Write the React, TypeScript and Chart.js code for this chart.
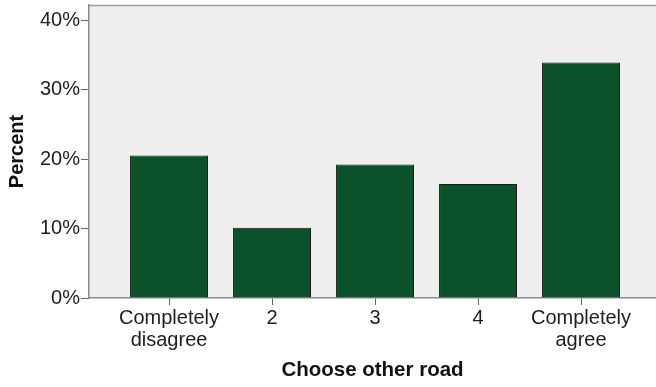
import React, { useEffect, useRef } from "react";
import { Chart, registerables } from "chart.js";

Chart.register(...registerables);

const categories: string[][] = [
  ["Completely", "disagree"],
  ["2"],
  ["3"],
  ["4"],
  ["Completely", "agree"],
];
const percentValues: number[] = [20.5, 10.1, 19.2, 16.4, 33.9];
const yTickValues: number[] = [0, 10, 20, 30, 40];
const xAxisTitle = "Choose other road";
const yAxisTitle = "Percent";

const bgPlugin = {
  id: "plotBg",
  beforeDraw(chart: any) {
    const { ctx, chartArea } = chart;
    if (!chartArea) return;
    ctx.save();
    ctx.fillStyle = "#efefef";
    ctx.fillRect(chartArea.left, chartArea.top, chartArea.right - chartArea.left, chartArea.bottom - chartArea.top);
    ctx.strokeStyle = "#9a9a9a";
    ctx.lineWidth = 1.5;
    ctx.beginPath();
    ctx.moveTo(chartArea.left, chartArea.top + 0.5);
    ctx.lineTo(chartArea.right, chartArea.top + 0.5);
    ctx.stroke();
    ctx.restore();
  },
};

export default function App() {
  const canvasRef = useRef<HTMLCanvasElement | null>(null);

  useEffect(() => {
    if (!canvasRef.current) return;
    const data = percentValues.map((v, i) => ({ x: i, y: v }));
    const chart = new Chart(canvasRef.current, {
      type: "bar",
      data: {
        datasets: [
          {
            data: data as any,
            backgroundColor: "#0b5129",
            borderColor: "#1a1a1a",
            borderWidth: 1,
            borderSkipped: "bottom",
            categoryPercentage: 1,
            barPercentage: 0.757,
          },
        ],
      },
      options: {
        animation: false,
        responsive: false,
        maintainAspectRatio: false,
        layout: { padding: { top: 5, left: 0, right: 0, bottom: 0 } },
        plugins: { legend: { display: false }, tooltip: { enabled: false } },
        scales: {
          x: {
            type: "linear",
            min: -0.777,
            max: 4.728,
            offset: false,
            afterBuildTicks: (scale: any) => {
              scale.ticks = categories.map((_, i) => ({ value: i }));
            },
            afterFit: (scale: any) => {
              scale.height = 89;
              scale.paddingLeft = 0;
              scale.paddingRight = 0;
            },
            grid: {
              offset: false,
              drawOnChartArea: false,
              drawTicks: true,
              tickLength: 7,
              color: "#666",
            },
            border: { display: true, color: "#8a8a8a", width: 1.5 },
            ticks: {
              autoSkip: false,
              maxRotation: 0,
              padding: 2,
              color: "#1e1e1e",
              font: { family: "Liberation Sans, Arial, sans-serif", size: 20, lineHeight: 1.1 },
              callback: (v: any) => categories[Math.round(Number(v))] ?? "",
            },
            title: {
              display: true,
              text: xAxisTitle,
              color: "#111",
              font: { family: "Liberation Sans, Arial, sans-serif", size: 20.5, weight: "bold", lineHeight: 1.2 },
              padding: { top: 0, bottom: 4 },
            },
          },
          y: {
            type: "linear",
            min: 0,
            max: 42.16,
            afterBuildTicks: (scale: any) => {
              scale.ticks = yTickValues.map((v) => ({ value: v }));
            },
            afterFit: (scale: any) => {
              scale.width = 89;
              scale.paddingTop = 0;
              scale.paddingBottom = 0;
            },
            grid: {
              drawOnChartArea: false,
              drawTicks: true,
              tickLength: 8,
              color: "#666",
            },
            border: { display: true, color: "#8a8a8a", width: 1.5 },
            ticks: {
              padding: 1,
              color: "#1e1e1e",
              font: { family: "Liberation Sans, Arial, sans-serif", size: 20 },
              callback: (v: any) => `${v}%`,
            },
            title: {
              display: true,
              text: yAxisTitle,
              color: "#111",
              font: { family: "Liberation Sans, Arial, sans-serif", size: 20, weight: "bold", lineHeight: 1.2 },
              padding: { top: 5, bottom: 0 },
            },
          },
        },
      },
      plugins: [bgPlugin],
    });
    return () => chart.destroy();
  }, []);

  return (
    <div style={{ position: "fixed", left: 0, top: 0, width: 656, height: 387, background: "#fff" }}>
      <canvas ref={canvasRef} width={656} height={387} style={{ width: 656, height: 387, display: "block" }} />
    </div>
  );
}
